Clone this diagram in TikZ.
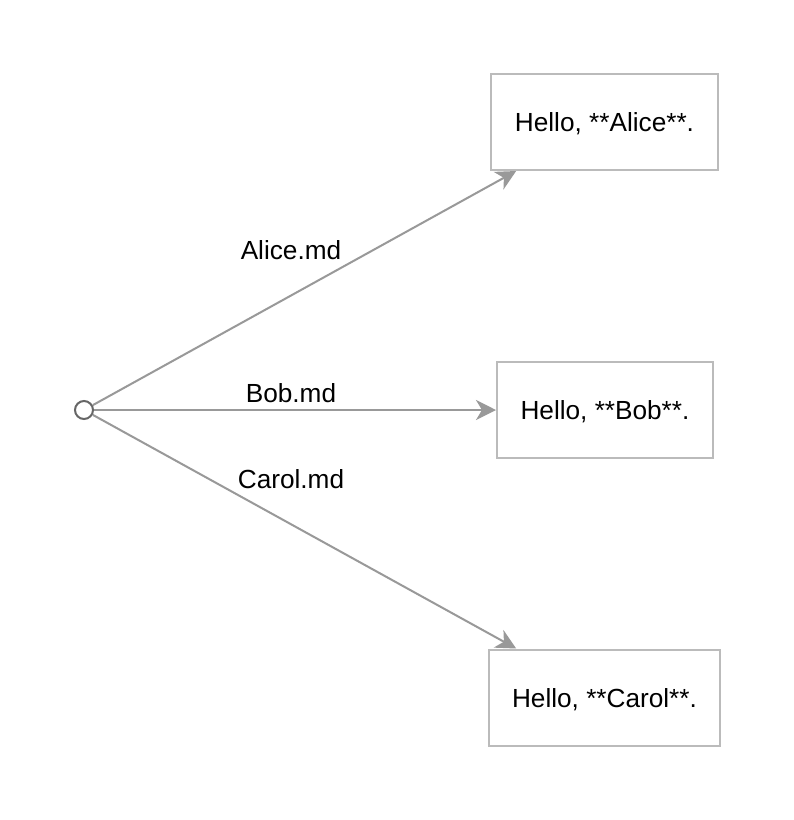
\documentclass[tikz,border=0pt]{standalone}
\usepackage{fontspec}
\setmainfont{Liberation Sans}
\usepackage{tikz}
\usetikzlibrary{shapes, positioning, arrows.meta}

\definecolor{edgegray}{HTML}{999999}
\definecolor{boxgray}{HTML}{BBBBBB}
\definecolor{dotgray}{HTML}{666666}

\begin{document}
\begin{tikzpicture}[x=1pt, y=-1pt,
    font=\fontsize{26.2}{30}\selectfont,
    page/.style={draw=boxgray, line width=2pt, inner sep=0pt,
        text height=19pt, text depth=0pt, minimum height=96pt},
    link/.style={draw=edgegray, line width=2pt,
        -{Stealth[length=20pt, width=20pt, inset=6pt]}},
    fname/.style={anchor=base}]
    % page size
    \useasboundingbox[fill=white] (0,0) rectangle (794,820);

    % start point and the three pages
    \node[circle, draw=dotgray, line width=2pt, fill=white, minimum size=18pt, inner sep=0pt] (start) at (84,410) {};
    \node[page, minimum width=227pt] (alice) at (604.5,122) {Hello, **Alice**.};
    \node[page, minimum width=216pt] (bob) at (605,410) {Hello, **Bob**.};
    \node[page, minimum width=231pt] (carol) at (604.5,697.5) {Hello, **Carol**.};

    % links
    \draw[link] (start) -- (alice);
    \draw[link] (start) -- (bob);
    \draw[link] (start) -- (carol);

    % file names
    \node[fname] (alicemd) at (291,259) {Alice.md};
    \node[fname] (bobmd) at (291,402) {Bob.md};
    \node[fname] (carolmd) at (291,488) {Carol.md};
\end{tikzpicture}
\end{document}
